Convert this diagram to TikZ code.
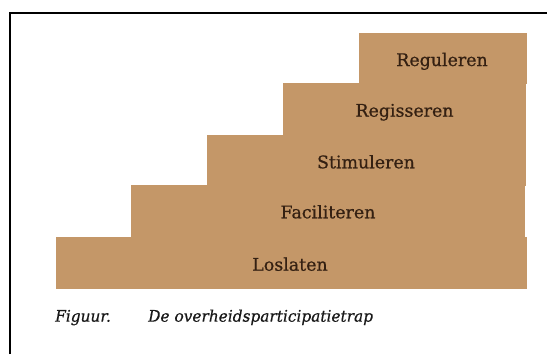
\documentclass[tikz,border=0pt]{standalone}
\usepackage{fontspec}
\newfontfamily\labfont[FakeBold=0.7]{DejaVu Serif}
\newfontfamily\capfont[FakeBold=0.5,FakeStretch=0.96]{DejaVu Serif Italic}
\definecolor{stairtan}{RGB}{196,151,104}
\definecolor{labbrown}{RGB}{52,32,18}
\definecolor{captext}{RGB}{25,25,25}
\tikzset{
  stairblock/.style={fill=stairtan, draw=none},
  steplabel/.style={anchor=base, inner sep=0pt, text=labbrown, font=\labfont\fontsize{17.4}{20}\selectfont},
  captionlabel/.style={anchor=base west, inner sep=0pt, text=captext, font=\capfont\fontsize{16}{19}\selectfont},
  framerule/.style={line width=2.2pt, draw=black}
}
\begin{document}
\begin{tikzpicture}[x=1pt,y=-1pt]
\useasboundingbox (0,0) rectangle (547,354);
% frame (only top and left edges visible)
\coordinate (fb) at (10,354);
\coordinate (fc) at (10,13);
\coordinate (fr) at (547,13);
\draw[framerule] (fb) -- (fc) -- (fr);
% stairs
\path[stairblock] (56,237) rectangle (527,289);
\path[stairblock] (130.7,185) rectangle (524.5,237.5);
\path[stairblock] (206.7,135) rectangle (525.5,185.5);
\path[stairblock] (282.7,83) rectangle (525.5,135.5);
\path[stairblock] (359,32.7) rectangle (527,83.5);
% labels
\node[steplabel] (reg) at (442,66) {Reguleren};
\node[steplabel] (ris) at (404.5,116.7) {Regisseren};
\node[steplabel] (sti) at (366,168.3) {Stimuleren};
\node[steplabel] (fac) at (328,218.3) {Faciliteren};
\node[steplabel] (los) at (290,270.7) {Loslaten};
% caption
\node[captionlabel] (fig) at (55,321.7) {Figuur.};
\node[captionlabel] (cap) at (148,321.7) {De overheidsparticipatietrap};
\end{tikzpicture}
\end{document}
